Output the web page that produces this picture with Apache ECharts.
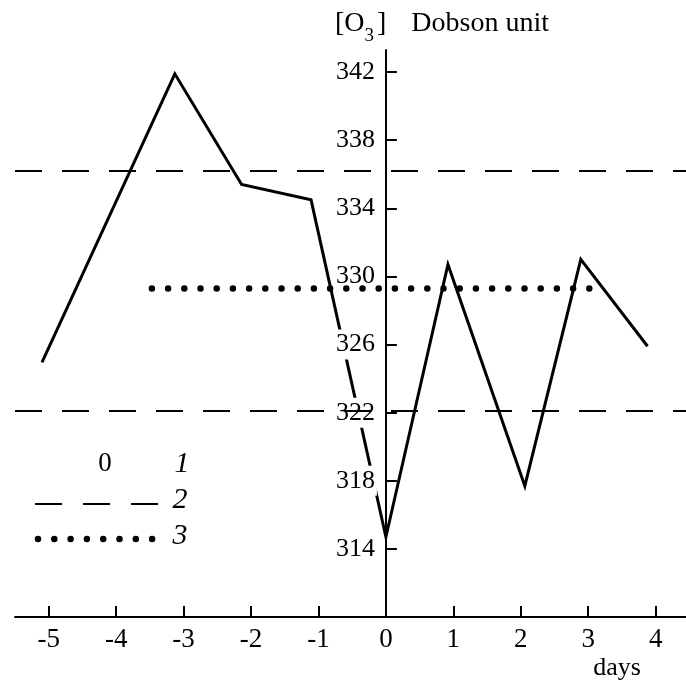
<!DOCTYPE html>
<html>
<head>
<meta charset="utf-8">
<script src="https://cdn.jsdelivr.net/npm/echarts@6/dist/echarts.min.js"></script>
<style>
  html, body { margin: 0; padding: 0; background: #fff; }
  #chart { width: 686px; height: 684px; }
</style>
</head>
<body>
<div id="chart"></div>
<script>
// days around the event and total ozone
const dayTicks = [-5, -4, -3, -2, -1, 0, 1, 2, 3, 4];
const o3Days = [-5.10, -3.13, -2.14, -1.11, 0.0, 0.92, 2.06, 2.89, 3.88];
const o3Values = [324.95, 341.9, 335.4, 334.5, 314.7, 330.7, 317.7, 331.0, 325.9];

// dashed limits (2) and dotted mean (3)
const limitLevels = [336.2, 322.1];
const limitSpan = [-5.5, 4.45];
const meanLevel = 329.3;
const meanSpan = [-3.47, 3.18];

const serif = '"Liberation Serif", "DejaVu Serif", serif';

const gridLeft = 15, gridWidth = 671;

let chartDom = document.getElementById('chart');
let myChart = echarts.init(chartDom, null, { renderer: 'canvas' });

function flat(level, span) {   // horizontal line from two x values
    return span.map(d => [d, level]);
}

// y axis sits at day 0, move it there with a negative offset
let zeroOffset = -gridWidth * (0 - limitSpan[0]) / (limitSpan[1] - limitSpan[0]);

// solid curve goes under the white label boxes of the y axis, like in the print
let series = [
    {
        name: '1',
        type: 'line',
        data: o3Days.map((d, i) => [d, o3Values[i]]),
        symbol: 'none',
        zlevel: 0,
        z: 2,
        lineStyle: { color: '#000', width: 3, join: 'miter' }
    }
];

limitLevels.forEach(level => {
    series.push({
        name: '2',
        type: 'line',
        data: flat(level, limitSpan),
        symbol: 'none',
        zlevel: 2,
        lineStyle: { color: '#000', width: 2, type: [27, 20] }
    });
});

series.push({
    name: '3',
    type: 'line',
    data: flat(meanLevel, meanSpan),
    symbol: 'none',
    zlevel: 2,
    lineStyle: { color: '#000', width: 6.5, type: [0, 16.2], cap: 'round' }
});

let option = {
    animation: false,
    backgroundColor: '#fff',
    grid: { left: gridLeft, width: gridWidth, top: 50, bottom: 67, containLabel: false, outerBoundsMode: 'none' },
    xAxis: {
        type: 'value',
        min: limitSpan[0],
        max: limitSpan[1],
        zlevel: 1,
        splitLine: { show: false },
        axisLine: { onZero: false, lineStyle: { color: '#000', width: 2 } },
        axisTick: { inside: true, length: 11, customValues: dayTicks, lineStyle: { color: '#000', width: 2 } },
        axisLabel: {
            customValues: dayTicks,
            color: '#000', fontSize: 27, fontFamily: serif, margin: 9
        }
    },
    yAxis: {
        type: 'value',
        min: 310,
        max: 343.3,
        interval: 4,
        offset: zeroOffset,
        zlevel: 1,
        splitLine: { show: false },
        axisLine: { onZero: false, lineStyle: { color: '#000', width: 2 } },
        axisTick: { inside: true, length: 11, lineStyle: { color: '#000', width: 2 } },
        axisLabel: {
            color: '#000', fontSize: 26, fontFamily: serif, margin: 9,
            backgroundColor: '#fff', padding: [4, 2], lineHeight: 22,
            showMinLabel: false, showMaxLabel: false
        }
    },
    graphic: [
        {   // axis title with subscript
            type: 'text', x: 335, y: 2, zlevel: 2,
            style: {
                text: '{a|[O}{s|3}{a|]}{d|Dobson unit}',
                rich: {
                    a: { fontSize: 28, fontFamily: serif, fill: '#000', lineHeight: 44, verticalAlign: 'middle' },
                    s: { fontSize: 19, fontFamily: serif, fill: '#000', lineHeight: 44, verticalAlign: 'bottom', padding: [0, 3, 0, 0] },
                    d: { fontSize: 28, fontFamily: serif, fill: '#000', lineHeight: 44, verticalAlign: 'middle', padding: [0, 0, 0, 25] }
                }
            }
        },
        {
            type: 'text', x: 617, y: 668, zlevel: 2,
            style: { text: 'days', font: '26px ' + serif, fill: '#000', align: 'center', verticalAlign: 'middle' }
        },
        // legend
        {
            type: 'text', x: 105, y: 464, zlevel: 2,
            style: { text: '0', font: '27px ' + serif, fill: '#000', align: 'center', verticalAlign: 'middle' }
        },
        {
            type: 'text', x: 182, y: 464, zlevel: 2,
            style: { text: '1', font: 'italic 30px ' + serif, fill: '#000', align: 'center', verticalAlign: 'middle' }
        },
        {
            type: 'line', zlevel: 2,
            shape: { x1: 35, y1: 504, x2: 162, y2: 504 },
            style: { stroke: '#000', lineWidth: 2, lineDash: [27, 21] }
        },
        {
            type: 'text', x: 180, y: 500, zlevel: 2,
            style: { text: '2', font: 'italic 30px ' + serif, fill: '#000', align: 'center', verticalAlign: 'middle' }
        },
        {
            type: 'line', zlevel: 2,
            shape: { x1: 38, y1: 539, x2: 153, y2: 539 },
            style: { stroke: '#000', lineWidth: 6.5, lineDash: [0, 16.3], lineCap: 'round' }
        },
        {
            type: 'text', x: 180, y: 536, zlevel: 2,
            style: { text: '3', font: 'italic 30px ' + serif, fill: '#000', align: 'center', verticalAlign: 'middle' }
        }
    ],
    series: series
};

option && myChart.setOption(option);
</script>
</body>
</html>
